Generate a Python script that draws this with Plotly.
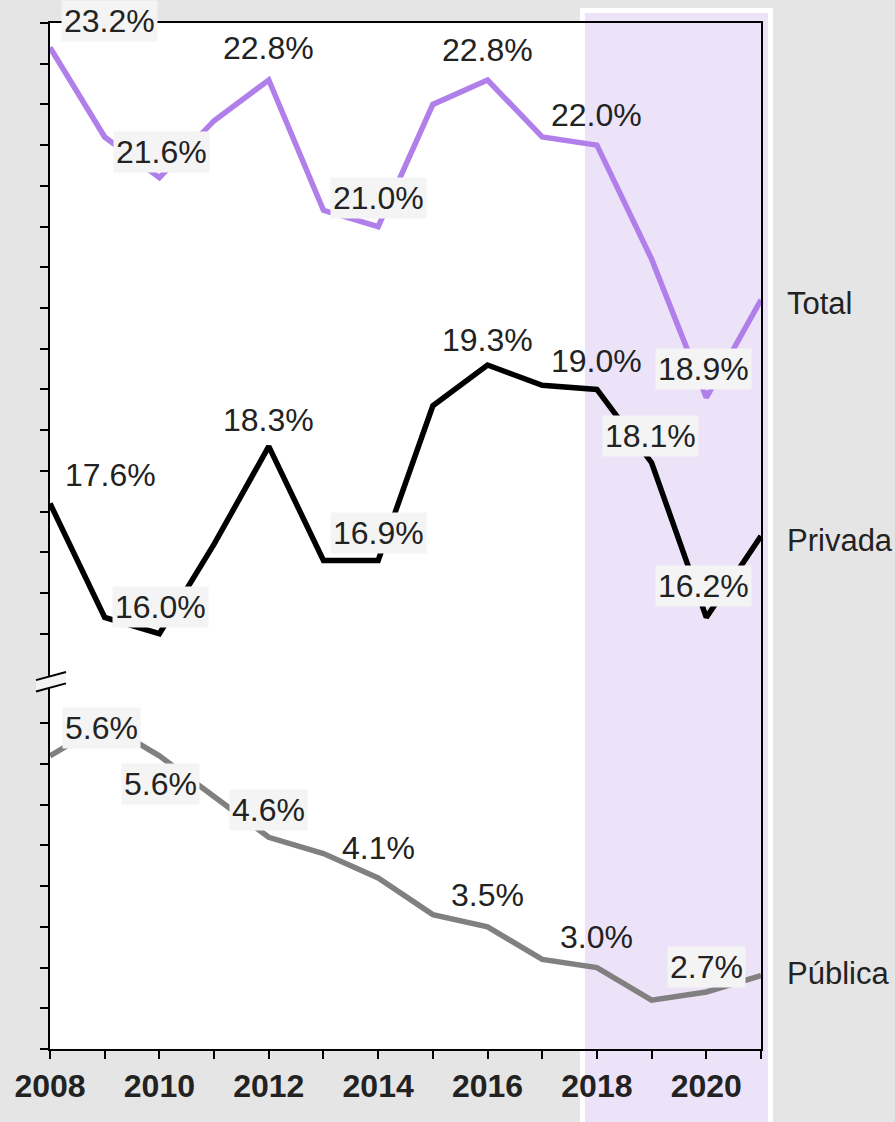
import plotly.graph_objects as go

# ---- data -------------------------------------------------------------
years = list(range(2008, 2022))
total = [23.2, 22.1, 21.6, 22.3, 22.8, 21.2, 21.0, 22.5, 22.8, 22.1, 22.0, 20.6, 18.9, 20.1]
privada = [17.6, 16.2, 16.0, 17.1, 18.3, 16.9, 16.9, 18.8, 19.3, 19.05, 19.0, 18.1, 16.2, 17.2]
publica = [5.6, 6.0, 5.6, 5.1, 4.6, 4.4, 4.1, 3.65, 3.5, 3.1, 3.0, 2.6, 2.7, 2.9]

series_names = ["Total", "Privada", "Pública"]

# years that carry a value label, per series
label_years_total = [2008, 2010, 2012, 2014, 2016, 2018, 2020]
label_years_privada = [2008, 2010, 2012, 2014, 2016, 2018, 2019, 2020]
label_years_publica = [2008, 2010, 2012, 2014, 2016, 2018, 2020]

# highlighted period
shade_start, shade_end = 2018, 2021

# ---- broken axis: the public series is drawn in a lower band ------------
LOWER_SHIFT = 8.9          # lower band value v is plotted at v + LOWER_SHIFT
upper_ticks = [16.0 + 0.5 * i for i in range(16)]
lower_ticks = [2.0 + 0.5 * i for i in range(9)]
Y_MIN, Y_MAX = 2.0 + LOWER_SHIFT, 23.5
BREAK_Y = 15.41

PURPLE = "#B07FEA"
BLACK = "#000000"
GREY = "#808080"
TEXT = "#222222"
FONT = "Liberation Sans, Arial, sans-serif"
LABEL_SIZE = 32
NAME_SIZE = 31

publica_plot = [v + LOWER_SHIFT for v in publica]

fig = go.Figure()
for name, ys, color in [("Total", total, PURPLE),
                        ("Privada", privada, BLACK),
                        ("Pública", publica_plot, GREY)]:
    fig.add_trace(go.Scatter(x=years, y=ys, mode="lines", name=name,
                             line=dict(color=color, width=5.5),
                             hoverinfo="skip", showlegend=False))

# ---- value labels (offsets in px: dx, dy, boxed) -----------------------
label_style_total = {2008: (59, 26, True), 2010: (2, 26, True), 2012: (0, 32, False),
                     2014: (0, 29, True), 2016: (0, 30, False), 2018: (0, 30, False),
                     2020: (-3, 29, True)}
label_style_privada = {2008: (60, 28, False), 2010: (1, 27, True), 2012: (0, 26, False),
                       2014: (0, 27, True), 2016: (0, 25, False), 2018: (0, 28, False),
                       2019: (-1, 27, True), 2020: (-3, 31, True)}
label_style_publica = {2008: (51, 28, True), 2010: (1, -28, True), 2012: (0, 27, True),
                       2014: (0, 30, False), 2016: (0, 32, False), 2018: (0, 31, False),
                       2020: (0, 25, True)}

annotations = []


def add_labels(values, label_years, style, shift=0.0):
    for yr in label_years:
        v = values[years.index(yr)]
        dx, dy, boxed = style[yr]
        annotations.append(dict(
            x=yr, y=v + shift, xref="x", yref="y", text=f"{v:.1f}%",
            showarrow=False, xshift=dx, yshift=dy,
            font=dict(family=FONT, size=LABEL_SIZE, color=TEXT),
            bgcolor="#F4F4F4" if boxed else "rgba(0,0,0,0)",
            borderpad=2))


add_labels(total, label_years_total, label_style_total)
add_labels(privada, label_years_privada, label_style_privada)
add_labels(publica, label_years_publica, label_style_publica, LOWER_SHIFT)

# series names at the right end of each line
for name, ys, dy in [("Total", total, -4), ("Privada", privada, -4), ("Pública", publica_plot, 2)]:
    annotations.append(dict(
        x=years[-1], y=ys[-1], xref="x", yref="y", text=name, showarrow=False,
        xanchor="left", xshift=24, yshift=dy,
        font=dict(family=FONT, size=NAME_SIZE, color=TEXT)))

# ---- background shapes ---------------------------------------------------
span = years[-1] - years[0]


def xpaper(yr):
    return (yr - years[0]) / span


shapes = [
    # white plotting panel
    dict(type="rect", xref="paper", yref="paper", x0=0, x1=1, y0=0, y1=1,
         fillcolor="white", line=dict(width=0), layer="below"),
    # highlighted period: white frame and lavender fill
    dict(type="rect", xref="paper", yref="paper",
         x0=xpaper(shade_start - 0.31), x1=xpaper(shade_end + 0.22),
         y0=-0.1, y1=1.0146, fillcolor="white", line=dict(width=0), layer="below"),
    dict(type="rect", xref="paper", yref="paper",
         x0=xpaper(shade_start - 0.22), x1=xpaper(shade_end + 0.13),
         y0=-0.1, y1=1.0097, fillcolor="#EDE3F9", line=dict(width=0), layer="below"),
]

# axis break marker
bx0, bx1 = -0.0197, 0.0225
half_gap, slant = 0.07, 0.05
shapes.append(dict(
    type="path", xref="paper", yref="y", layer="above",
    path=(f"M {bx0},{BREAK_Y - half_gap - slant} L {bx1},{BREAK_Y - half_gap + slant} "
          f"L {bx1},{BREAK_Y + half_gap + slant} L {bx0},{BREAK_Y + half_gap - slant} Z"),
    fillcolor="#F4F4F4", line=dict(width=0)))
for sgn in (-1, 1):
    shapes.append(dict(
        type="line", xref="paper", yref="y", layer="above",
        x0=bx0, x1=bx1,
        y0=BREAK_Y + sgn * half_gap - slant, y1=BREAK_Y + sgn * half_gap + slant,
        line=dict(color="black", width=2)))

tick_text = [str(y) if y % 2 == 0 else "" for y in years]

fig.update_layout(
    width=895, height=1122,
    margin=dict(l=50, r=134, t=23, b=73),
    paper_bgcolor="#E5E5E5",
    plot_bgcolor="rgba(0,0,0,0)",
    shapes=shapes,
    annotations=annotations,
    font=dict(family=FONT, color=TEXT),
    xaxis=dict(range=[years[0], years[-1]], tickvals=years, ticktext=tick_text,
               ticks="outside", ticklen=8, tickwidth=2, tickcolor="black",
               showline=True, linecolor="black", linewidth=2, mirror=True,
               showgrid=False, zeroline=False,
               tickfont=dict(family=FONT, size=32, color=TEXT, weight="bold")),
    yaxis=dict(range=[Y_MIN, Y_MAX],
               tickvals=[t + LOWER_SHIFT for t in lower_ticks] + upper_ticks,
               showticklabels=False,
               ticks="outside", ticklen=8, tickwidth=2, tickcolor="black",
               showline=True, linecolor="black", linewidth=2, mirror=True,
               showgrid=False, zeroline=False),
)

fig.write_html("out.html")
